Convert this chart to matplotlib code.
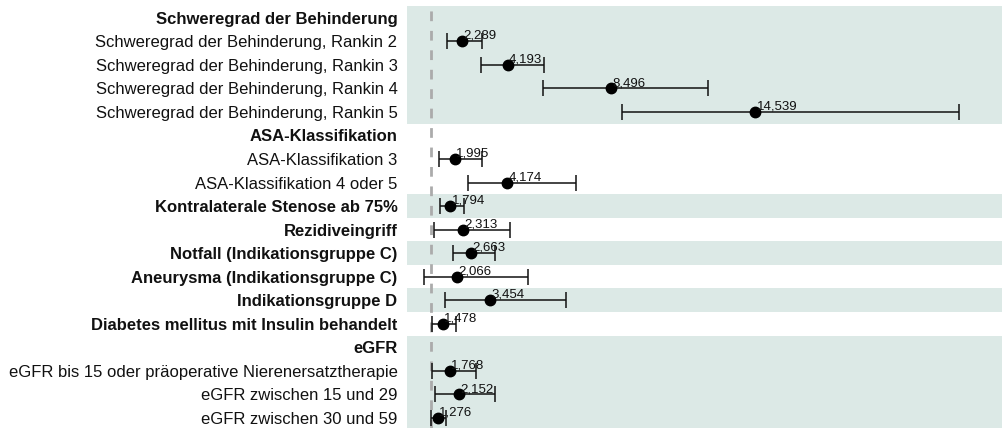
import numpy as np
import matplotlib.pyplot as plt

plt.rcParams["font.family"] = ["Liberation Sans", "DejaVu Sans"]

# ---------------------------------------------------------------------
# data (odds ratios with 95% CI)
# ---------------------------------------------------------------------
labels = [
    "Schweregrad der Behinderung",
    "Schweregrad der Behinderung, Rankin 2",
    "Schweregrad der Behinderung, Rankin 3",
    "Schweregrad der Behinderung, Rankin 4",
    "Schweregrad der Behinderung, Rankin 5",
    "ASA-Klassifikation",
    "ASA-Klassifikation 3",
    "ASA-Klassifikation 4 oder 5",
    "Kontralaterale Stenose ab 75%",
    "Rezidiveingriff",
    "Notfall (Indikationsgruppe C)",
    "Aneurysma (Indikationsgruppe C)",
    "Indikationsgruppe D",
    "Diabetes mellitus mit Insulin behandelt",
    "eGFR",
    "eGFR bis 15 oder präoperative Nierenersatztherapie",
    "eGFR zwischen 15 und 29",
    "eGFR zwischen 30 und 59",
]
bold = [1, 0, 0, 0, 0, 1, 0, 0, 1, 1, 1, 1, 1, 1, 1, 0, 0, 0]
group = [0, 0, 0, 0, 0, 1, 1, 1, 2, 3, 4, 5, 6, 7, 8, 8, 8, 8]

odds = [np.nan, 2.289, 4.193, 8.496, 14.539, np.nan, 1.995, 4.174, 1.794,
        2.313, 2.663, 2.066, 3.454, 1.478, np.nan, 1.768, 2.152, 1.276]
lower = [np.nan, 1.67, 3.09, 5.69, 8.99, np.nan, 1.33, 2.55, 1.38,
         1.13, 1.92, 0.71, 1.59, 1.04, np.nan, 1.04, 1.17, 1.00]
upper = [np.nan, 3.13, 5.73, 12.55, 23.05, np.nan, 3.13, 7.07, 2.38,
         4.31, 3.68, 5.06, 6.65, 2.05, np.nan, 2.88, 3.68, 1.63]

band_color = "#dce9e6"

fig = plt.figure(figsize=(10.03, 4.28), dpi=100)
ax = fig.add_axes([0.406, -0.004, 0.594, 0.990])

rows = np.arange(len(labels))
odds = np.array(odds)
lower = np.array(lower)
upper = np.array(upper)

# shaded bands, one per group, alternating
for g in sorted(set(group)):
    if g % 2 == 0:
        idx = [i for i, gg in enumerate(group) if gg == g]
        ax.axhspan(min(idx) - 0.5, max(idx) + 0.5, color=band_color, lw=0, zorder=0)

ax.axvline(1.0, color="#ababab", lw=2, ls=(0, (3.5, 3.5)), zorder=1)

ok = ~np.isnan(odds)
ax.errorbar(odds[ok], rows[ok],
            xerr=[odds[ok] - lower[ok], upper[ok] - odds[ok]],
            fmt="none", ecolor="#111111", elinewidth=1.1, capsize=5.5,
            capthick=1.1, zorder=2)
ax.plot(odds[ok], rows[ok], "o", color="black", ms=7.5, zorder=3)

for x, y in zip(odds[ok], rows[ok]):
    ax.annotate(f"{x:.3f}".replace(".", ","), (x, y), xytext=(1, -0.5),
                textcoords="offset points", ha="left", va="bottom",
                fontsize=9.5, color="#111111", zorder=4)

ax.set_xlim(0, 24.9)
ax.set_ylim(len(labels) - 0.5, -0.5)
ax.set_yticks(rows)
ax.set_yticklabels(labels, fontsize=12, color="#111111")
for t, b in zip(ax.get_yticklabels(), bold):
    if b:
        t.set_fontweight("bold")
ax.tick_params(axis="y", length=0, pad=7)
ax.set_xticks([])
for s in ax.spines.values():
    s.set_visible(False)

fig.savefig("out.png", dpi=100, facecolor="white")
